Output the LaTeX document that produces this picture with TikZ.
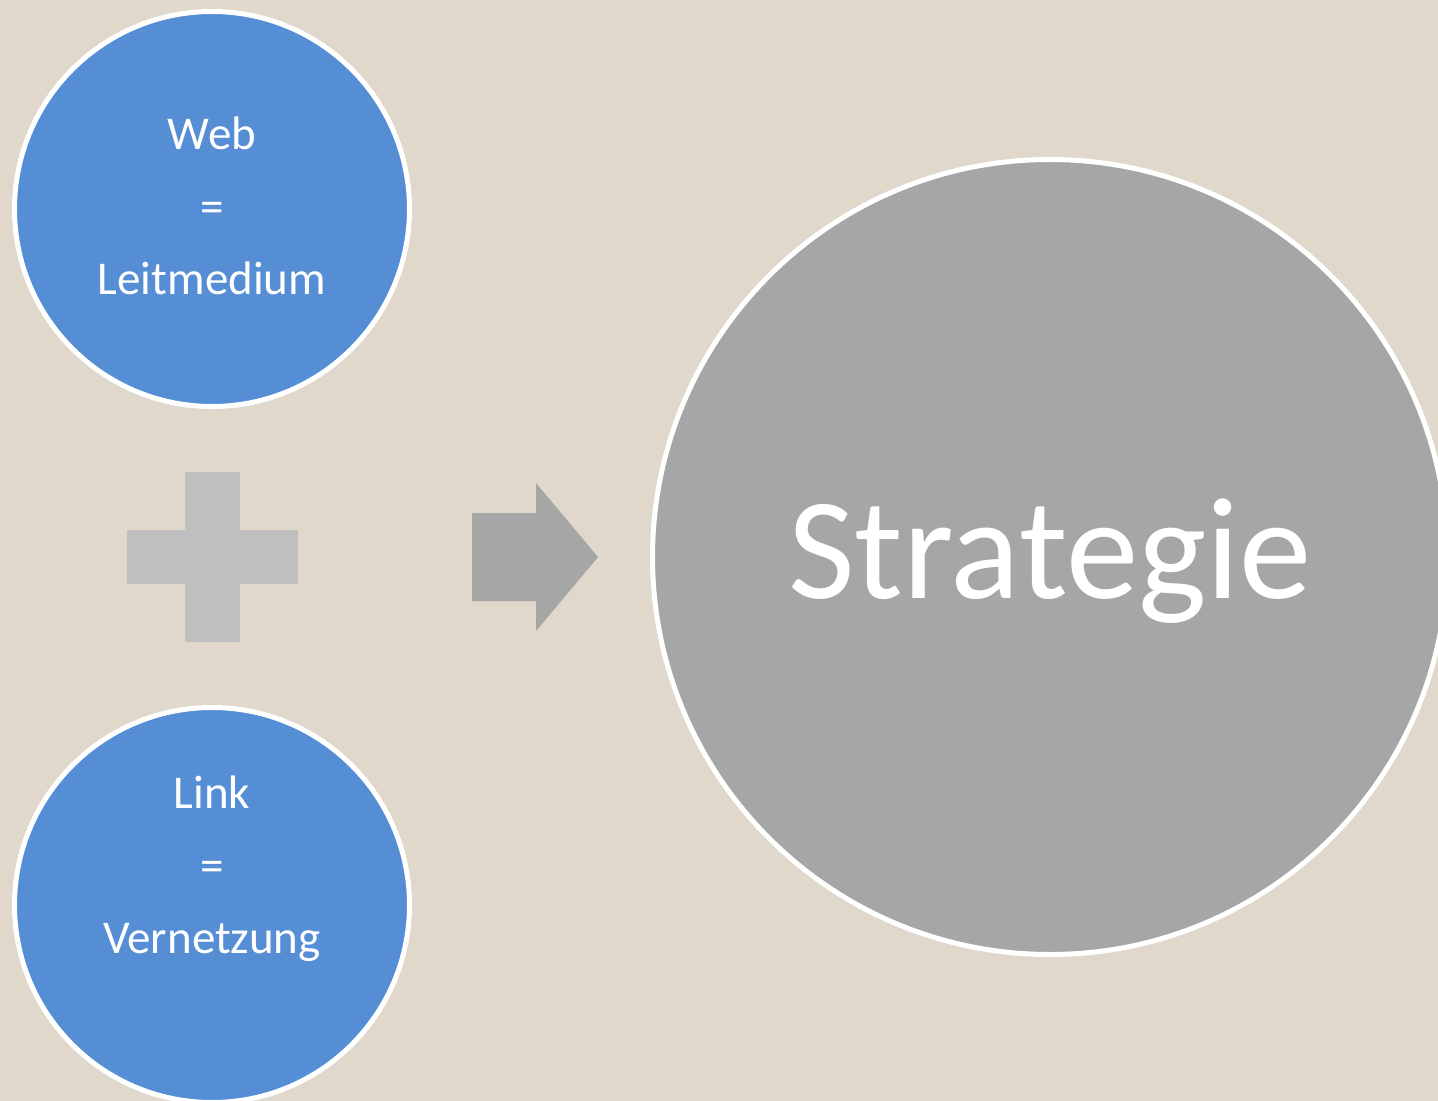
\documentclass[tikz,border=0pt]{standalone}
\usepackage{fontspec}
\setmainfont{Carlito}
\usepackage{tikz}
\definecolor{slidebg}{RGB}{223,216,203}
\definecolor{bubbleblue}{RGB}{85,142,213}
\definecolor{bubblegray}{RGB}{166,166,166}
\definecolor{pluslight}{RGB}{191,191,191}
\tikzset{
	bubble/.style={circle, draw=white, line width=2.5pt, inner sep=0pt}, % white ring round every circle
	small bubble/.style={bubble, fill=bubbleblue, minimum size=197.5pt}, % the two blue circles on the left
	big bubble/.style={bubble, fill=bubblegray, minimum size=397.5pt}, % the big result circle
	bubble text/.style={text=white, align=center, font=\fontsize{23.5}{36.25}\selectfont},
	big text/.style={text=white, font=\fontsize{72.5}{80}\selectfont},
}

\begin{document}
\begin{tikzpicture}[x=0.5pt, y=-0.5pt]
	\useasboundingbox (0,0) rectangle (1438,1101);
	\fill[slidebg] (0,0) rectangle (1438,1101);
	\clip (0,0) rectangle (1438,1101);
			\node[small bubble] (web) at (212,209) {};
			\node[small bubble] (link) at (212,905) {};
			\node[big bubble] (strategie) at (1050,557) {};
			\node[bubble text] (webtext) at (212,206) {Web\\=\\Leitmedium};
			\node[bubble text] (linktext) at (212,869) {Link\\=\\Vernetzung};
			\node[big text, anchor=base] (strategietext) at (1050,598) {Strategie};
	% plus sign and arrow
	\fill[pluslight] (185,472) rectangle (240,642);
	\fill[pluslight] (127,530) rectangle (298,584);
	\fill[bubblegray] (472,513) -- (536,513) -- (536,483) -- (598,557)
			-- (536,631) -- (536,601) -- (472,601) -- cycle;
\end{tikzpicture}
\end{document}
